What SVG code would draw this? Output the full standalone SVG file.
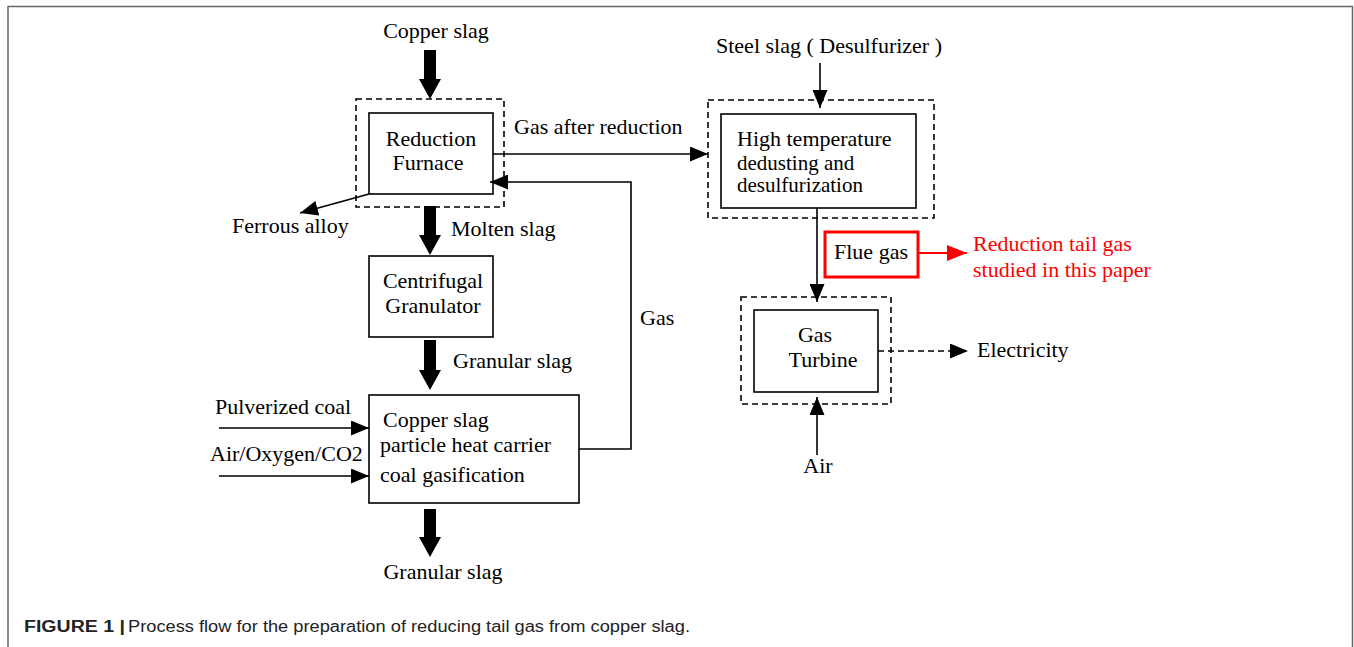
<svg xmlns="http://www.w3.org/2000/svg" width="1354" height="647" viewBox="0 0 1354 647">
  <defs>
    <marker id="ah" markerWidth="18" markerHeight="15" refX="18" refY="7.5" orient="auto" markerUnits="userSpaceOnUse">
      <path d="M0,0 L18,7.5 L0,15 z" fill="#000"/>
    </marker>
    <marker id="ahr" markerWidth="20" markerHeight="16" refX="20" refY="8" orient="auto" markerUnits="userSpaceOnUse">
      <path d="M0,0 L20,8 L0,16 z" fill="#f00"/>
    </marker>
  </defs>
  <style>
    .t { font-family: "Liberation Serif", "Times New Roman", serif; font-size: 22px; fill: #000; }
    .tight { font-size: 21px; }
    .red { fill: #f00; }
    .box { fill: #fff; stroke: #000; stroke-width: 1.6; }
    .dash { fill: none; stroke: #000; stroke-width: 1.6; stroke-dasharray: 6 4; }
    .ln { fill: none; stroke: #000; stroke-width: 1.6; }
    .fat { fill: #000; }
    .cap { font-family: "Liberation Sans", Arial, sans-serif; font-size: 16px; fill: #222; }
  </style>

  <rect width="1354" height="647" fill="#fff"/>
  <!-- frame -->
  <path d="M8,647 V6.5 H1352.5 V647" fill="none" stroke="#666" stroke-width="1.5"/>

  <!-- reduction furnace -->
  <g id="furnace">
    <rect class="dash" x="356" y="99" width="148" height="108"/>
    <rect class="box" x="369" y="113" width="124" height="81"/>
    <text class="t" x="431" y="146" text-anchor="middle">Reduction</text>
    <text class="t" x="428" y="170" text-anchor="middle">Furnace</text>
  </g>

  <!-- centrifugal granulator -->
  <g id="granulator">
    <rect class="box" x="369" y="256" width="124" height="81"/>
    <text class="t" x="433" y="288" text-anchor="middle">Centrifugal</text>
    <text class="t" x="433" y="313" text-anchor="middle">Granulator</text>
  </g>

  <!-- gasification -->
  <g id="gasifier">
    <rect class="box" x="369" y="395" width="210" height="108"/>
    <text class="t" x="383" y="427">Copper slag</text>
    <text class="t" x="380" y="452">particle heat carrier</text>
    <text class="t" x="380" y="482">coal gasification</text>
  </g>

  <!-- dedusting / desulfurization -->
  <g id="desulfurizer">
    <rect class="dash" x="708" y="100" width="226" height="118"/>
    <rect class="box" x="721" y="114" width="195" height="94"/>
    <text class="t" x="737" y="146">High temperature</text>
    <text class="t tight" x="737" y="170">dedusting and</text>
    <text class="t tight" x="737" y="192">desulfurization</text>
  </g>

  <!-- flue gas tag -->
  <g id="fluegas">
    <rect x="825" y="232" width="93" height="45" fill="#fff" stroke="#f00" stroke-width="3"/>
    <text class="t" x="871" y="259" text-anchor="middle">Flue gas</text>
  </g>

  <!-- gas turbine -->
  <g id="turbine">
    <rect class="dash" x="741" y="297" width="150" height="107"/>
    <rect class="box" x="754" y="310" width="124" height="82"/>
    <text class="t" x="815" y="342" text-anchor="middle">Gas</text>
    <text class="t" x="823" y="367" text-anchor="middle">Turbine</text>
  </g>

  <!-- free labels -->
  <g id="labels">
    <text class="t" x="436" y="38" text-anchor="middle">Copper slag</text>
    <text class="t" x="514" y="134">Gas after reduction</text>
    <text class="t" x="232" y="233">Ferrous alloy</text>
    <text class="t" x="451" y="236">Molten slag</text>
    <text class="t" x="453" y="368">Granular slag</text>
    <text class="t" x="215" y="414">Pulverized coal</text>
    <text class="t" x="210" y="461">Air/Oxygen/CO2</text>
    <text class="t" x="443" y="579" text-anchor="middle">Granular slag</text>
    <text class="t" x="640" y="325">Gas</text>
    <text class="t" x="716" y="53">Steel slag ( Desulfurizer )</text>
    <text class="t red" x="973" y="251">Reduction tail gas</text>
    <text class="t red" x="973" y="277">studied in this paper</text>
    <text class="t" x="977" y="357">Electricity</text>
    <text class="t" x="818" y="473" text-anchor="middle">Air</text>
  </g>

  <!-- connectors -->
  <g id="connectors">
    <!-- heavy solids flow arrows -->
    <path class="fat" d="M424,50 H436 V79 H441 L430,99 L419,79 H424 Z"/>
    <path class="fat" d="M424,206 H436 V235 H441 L430,255 L419,235 H424 Z"/>
    <path class="fat" d="M424,340 H436 V370 H441 L430,390 L419,370 H424 Z"/>
    <path class="fat" d="M424,509 H436 V537 H441 L430,557 L419,537 H424 Z"/>

    <!-- gas streams -->
    <path class="ln" d="M493,154 H708" marker-end="url(#ah)"/>
    <path class="ln" d="M579,449 H631 V182 H490" marker-end="url(#ah)"/>
    <path class="ln" d="M369,194 L300,213" marker-end="url(#ah)"/>
    <path class="ln" d="M219,428 H369" marker-end="url(#ah)"/>
    <path class="ln" d="M219,476 H369" marker-end="url(#ah)"/>
    <path class="ln" d="M820,63 V108" marker-end="url(#ah)"/>
    <path class="ln" d="M817,208 V302" marker-end="url(#ah)"/>
    <path class="ln" d="M817,455 V397" marker-end="url(#ah)"/>
    <path class="ln" d="M878,351 H968" stroke-dasharray="6 4" marker-end="url(#ah)"/>
    <path d="M918,253 H967" fill="none" stroke="#f00" stroke-width="2" marker-end="url(#ahr)"/>
  </g>

  <!-- caption -->
  <g id="caption">
    <text class="cap" x="24" y="632" font-weight="bold" textLength="101" lengthAdjust="spacingAndGlyphs">FIGURE 1 |</text>
    <text class="cap" x="128" y="632" textLength="562" lengthAdjust="spacingAndGlyphs">Process flow for the preparation of reducing tail gas from copper slag.</text>
  </g>
</svg>
